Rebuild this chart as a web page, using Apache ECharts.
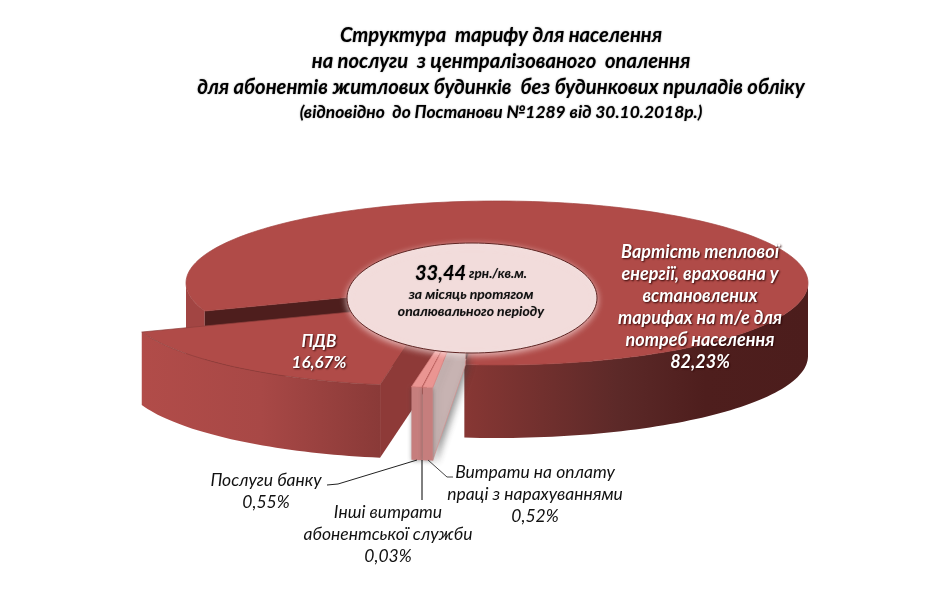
<!DOCTYPE html>
<html>
<head>
<meta charset="utf-8">
<style>html,body{margin:0;padding:0;background:#fff}#c{width:933px;height:609px}</style>
<script src="https://cdn.jsdelivr.net/npm/echarts@6/dist/echarts.min.js"></script>
</head>
<body>
<div id="c"></div>
<script>
// ---- data ----
const sliceNames = [
  'Вартість теплової\nенергії, врахована у\nвстановлених\nтарифах на т/е для\nпотреб населення',
  'Витрати на оплату\nпраці з нарахуваннями',
  'Інші витрати\nабонентської служби',
  'Послуги банку',
  'ПДВ'
];
const sliceValues = [82.23, 0.52, 0.03, 0.55, 16.67];
const titleLines = [
  'Структура  тарифу для населення',
  'на послуги  з централізованого  опалення',
  'для абонентів житлових будинків  без будинкових приладів обліку'
];
const subtitleLine = '(відповідно  до Постанови №1289 від 30.10.2018р.)';
const totalValue = '33,44';
const totalUnit = ' грн./кв.м.';
const totalNote = 'за місяць протягом\nопалювального періоду';

// ---- layout / style ----
const FONT = 'Lato';
const C = {x: 497, y: 283, rx: 311, ry: 82, depth: 73, startAngle: 160};
const HOLE = {x: 472, y: 298, rx: 125, ry: 55};
const toRad = a => a * Math.PI / 180;
const grad = (stops) => new echarts.graphic.LinearGradient(0, 0, 1, 0,
  stops.map(s => ({offset: s[0], color: s[1]})));

const sliceStyle = [
  {dx: 0, dy: 0, z: 1, top: '#b04b48', stroke: '#a34341'},
  {dx: -31.6, dy: 23, z: 5, top: '#ea9592', stroke: '#d77f7d', front: '#c67e7d', cut: '#c7b3b2', cutDepth: 59},
  {dx: -31.6, dy: 23, z: 4, top: '#a94c4a', stroke: '#a94c4a', front: '#a94c4a'},
  {dx: -31.6, dy: 23, z: 3, top: '#ea9592', stroke: '#d77f7d', front: '#c67e7d'},
  {dx: -63, dy: 21, z: 2, top: '#b04b48', stroke: '#8e3d3b', cut: '#8e3a38', cutDepth: 73,
   front: grad([[0, '#b14c49'], [0.5, '#a84846'], [1, '#8a3a38']])}
];
const labelStyle = [
  {x: 700, y: 307, fill: '#fff', font: 'italic bold 18px ' + FONT, lh: 22, shadow: true},
  {x: 535, y: 494, fill: '#111', font: 'italic 17.5px ' + FONT, lh: 22},
  {x: 388, y: 534, fill: '#111', font: 'italic 17.5px ' + FONT, lh: 22},
  {x: 266, y: 491, fill: '#111', font: 'italic 17.5px ' + FONT, lh: 22},
  {x: 319, y: 352, fill: '#fff', font: 'italic bold 17px ' + FONT, lh: 21, shadow: true}
];
const leaderLines = [
  null,
  {pts: [[428, 460], [447, 477], [453, 477]], color: '#444'},
  {pts: [[422, 460], [422, 500]], color: '#000'},
  {pts: [[417, 460], [338, 484], [327, 485]], color: '#222'},
  null
];

// angles of each slice, in ellipse parameter degrees (clockwise on screen)
const total = sliceValues.reduce((a, b) => a + b, 0);
const sliceAngles = [];
{
  let a = C.startAngle;
  sliceValues.forEach(v => {
    const b = a + v / total * 360;
    sliceAngles.push([a, b]);
    a = b;
  });
}
const fmt = v => v.toFixed(2).replace('.', ',') + '%';

function arc(cx, cy, a0, a1) {
  const pts = [];
  const n = Math.max(2, Math.ceil(Math.abs(a1 - a0) / 1.5));
  for (let i = 0; i <= n; i++) {
    const t = toRad(a0 + (a1 - a0) * i / n);
    pts.push([cx + C.rx * Math.cos(t), cy + C.ry * Math.sin(t)]);
  }
  return pts;
}

function wall(cx, cy, a0, a1, fill, z) {
  const top = arc(cx, cy, a0, a1);
  const bot = arc(cx, cy + C.depth, a0, a1).reverse();
  return {type: 'polygon', z2: z, shape: {points: top.concat(bot)}, style: {fill: fill}};
}

function renderSlice(params) {
  const i = params.dataIndex;
  const [a0, a1] = sliceAngles[i];
  const s = sliceStyle[i];
  const cx = C.x + s.dx, cy = C.y + s.dy;
  const kids = [];
  const z = s.z * 10;
  if (i === 0) {
    // outer walls visible from the front, either side of the gap
    kids.push(wall(cx, cy, a0, 180, '#a24543', z));
    kids.push(wall(cx, cy, 360, a1, grad([[0, '#873734'], [0.45, '#5c2928'], [0.7, '#4e1e1d'], [1, '#4c1d1c']]), z));
    // dark inner cut wall at the start of the slice
    const p = arc(cx, cy, a0, a0)[0];
    kids.push({type: 'polygon', z2: z + 1, shape: {points: [p, [p[0], p[1] + C.depth], [cx, cy + C.depth], [cx, cy]]},
      style: {fill: '#4e1e1d'}});
  } else {
    if (s.cut) {
      const p = arc(cx, cy, a0, a0)[0];
      kids.push({type: 'polygon', z2: z, shape: {points: [p, [p[0], p[1] + C.depth], [cx, cy + s.cutDepth], [cx, cy]]},
        style: i === 1
          ? {fill: s.cut, stroke: '#d98f8d', lineWidth: 0.6, shadowBlur: 7, shadowColor: 'rgba(60,60,60,0.55)', shadowOffsetX: 3, shadowOffsetY: 2}
          : {fill: s.cut}});
    }
    const w = wall(cx, cy, a0, a1, s.front, z + 1);
    if (i === 1 || i === 3) {
      w.style.shadowBlur = 4;
      w.style.shadowColor = 'rgba(60,60,60,0.45)';
      w.style.shadowOffsetY = 1;
    }
    kids.push(w);
  }
  kids.push({type: 'polygon', z2: z + 2,
    shape: {points: [[cx, cy]].concat(arc(cx, cy, a0, a1))},
    style: {fill: s.top, stroke: s.stroke, lineWidth: 0.7}});
  // leader line
  const ll = leaderLines[i];
  if (ll) {
    kids.push({type: 'polyline', z2: 90, shape: {points: ll.pts},
      style: {fill: null, stroke: ll.color, lineWidth: 1}});
  }
  // label
  const l = labelStyle[i];
  const st = {
    text: sliceNames[i] + '\n' + fmt(sliceValues[i]),
    fill: l.fill, font: l.font, lineHeight: l.lh,
    align: 'center', verticalAlign: 'middle'
  };
  if (l.shadow) {
    st.textShadowColor = 'rgba(40,0,0,0.9)';
    st.textShadowBlur = 2;
    st.textShadowOffsetX = 1;
    st.textShadowOffsetY = 1;
  }
  kids.push({type: 'text', z2: 95, x: l.x, y: l.y, style: st});
  return {type: 'group', children: kids};
}

const titleRich = (size, lh) => ({
  fontStyle: 'italic', fontWeight: 'bold', fontFamily: FONT, fontSize: size,
  color: '#000', lineHeight: lh, textShadowColor: 'rgba(0,0,0,0.45)', textShadowBlur: 1.5
});

const chart = echarts.init(document.getElementById('c'), null, {renderer: 'canvas'});
chart.setOption({
  backgroundColor: '#fff',
  animation: false,
  tooltip: {show: false},
  title: {
    left: 496, top: 17, textAlign: 'center',
    text: titleLines.map(t => '{a|' + t + '}').join('\n') + '\n{b|' + subtitleLine + '}',
    textStyle: {rich: {a: titleRich(20.2, 26), b: titleRich(17.4, 25)}}
  },
  series: [{
    type: 'custom',
    coordinateSystem: 'none',
    silent: true,
    clip: false,
    data: sliceValues.map((v, i) => ({name: sliceNames[i], value: [v]})),
    renderItem: renderSlice
  }],
  graphic: [
    {type: 'ellipse', z: 100, silent: true,
     shape: {cx: HOLE.x, cy: HOLE.y, rx: HOLE.rx, ry: HOLE.ry},
     style: {fill: '#f2dcdb', stroke: '#5f2523', lineWidth: 1,
             shadowBlur: 6, shadowColor: 'rgba(255,235,235,0.7)', shadowOffsetY: 2}},
    {type: 'text', z: 101, silent: true, x: 471, y: 274,
     style: {text: '{v|' + totalValue + '}{u|' + totalUnit + '}', align: 'center', verticalAlign: 'middle',
       rich: {
         v: {fontStyle: 'italic', fontWeight: 'bold', fontSize: 20, fontFamily: FONT, fill: '#000', textShadowColor: 'rgba(0,0,0,0.4)', textShadowBlur: 1.5},
         u: {fontStyle: 'italic', fontWeight: 'bold', fontSize: 13.5, fontFamily: FONT, fill: '#111', textShadowColor: 'rgba(0,0,0,0.3)', textShadowBlur: 1}
       }}},
    {type: 'text', z: 101, silent: true, x: 471, y: 303,
     style: {text: totalNote, align: 'center', verticalAlign: 'middle', lineHeight: 17,
       font: 'italic bold 14px ' + FONT, fill: '#111', textShadowColor: 'rgba(0,0,0,0.3)', textShadowBlur: 1}}
  ]
});
</script>
</body>
</html>
